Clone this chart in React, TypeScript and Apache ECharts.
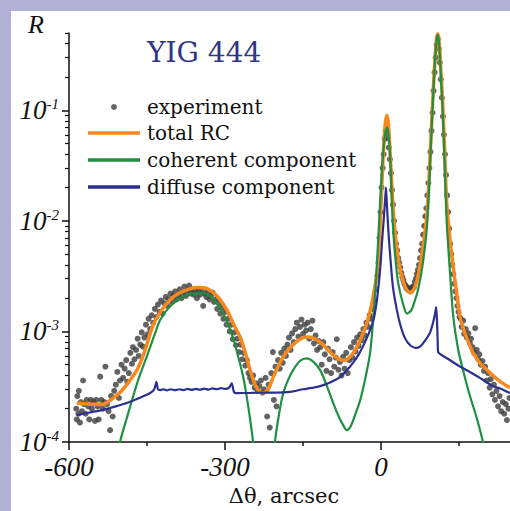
import React, { useEffect, useRef } from "react";
import * as echarts from "echarts";

// ---- axis ticks ----
const xMajorTicks = [-600, -300, 0];
const xMinorTicks = [-450, -150, 150];
const yMajorTicks = [1e-4, 1e-3, 1e-2, 1e-1];
const yMinorTicks = [
  2e-4, 3e-4, 4e-4, 5e-4, 6e-4, 7e-4, 8e-4, 9e-4,
  2e-3, 3e-3, 4e-3, 5e-3, 6e-3, 7e-3, 8e-3, 9e-3,
  2e-2, 3e-2, 4e-2, 5e-2, 6e-2, 7e-2, 8e-2, 9e-2,
  0.2, 0.3, 0.4, 0.5,
];

// ---- experiment points [Δθ arcsec, R] ----
const experiment: number[][] = [
  [-586, 2.0e-4], [-585, 1.6e-4], [-584, 2.6e-4], [-582, 1.8e-4], [-581, 2.9e-4], [-579, 1.5e-4], [-577, 2.3e-4], [-575, 1.9e-4],
  [-573, 3.6e-4], [-571, 2.2e-4], [-568, 1.8e-4], [-566, 2.4e-4], [-563, 2.1e-4], [-561, 1.6e-4], [-558, 2.4e-4], [-556, 2.0e-4],
  [-553, 2.3e-4], [-550, 1.55e-4], [-548, 2.4e-4], [-545, 2.1e-4], [-543, 1.6e-4], [-540, 3.9e-4], [-538, 2.4e-4], [-535, 2.0e-4],
  [-532, 2.3e-4], [-530, 4.8e-4], [-527, 2.2e-4], [-524, 1.9e-4], [-521, 1.28e-4], [-519, 2.6e-4], [-516, 1.7e-4], [-513, 2.9e-4],
  [-510, 3.3e-4], [-507, 4.3e-4], [-504, 2.5e-4], [-502, 3.6e-4],
  [-499, 5.0e-4], [-496, 3.8e-4], [-493, 4.6e-4], [-490, 5.5e-4], [-488, 3.5e-4], [-485, 4.2e-4], [-482, 6.4e-4], [-479, 5.1e-4],
  [-477, 7.2e-4], [-474, 5.6e-4], [-471, 6.8e-4], [-468, 8.6e-4], [-466, 6.0e-4], [-463, 7.6e-4], [-460, 9.8e-4], [-458, 7.3e-4],
  [-455, 8.8e-4], [-452, 1.15e-3], [-449, 9.4e-4], [-447, 1.3e-3], [-444, 1.05e-3], [-441, 1.4e-3],
  [-438, 1.2e-3], [-435, 1.6e-3], [-432, 1.35e-3], [-429, 1.75e-3], [-426, 1.5e-3], [-423, 1.9e-3], [-420, 1.45e-3], [-417, 1.8e-3],
  [-414, 2.05e-3], [-411, 1.7e-3], [-408, 1.95e-3], [-405, 2.2e-3], [-402, 1.85e-3], [-399, 2.1e-3], [-396, 2.3e-3], [-393, 1.95e-3],
  [-390, 2.15e-3], [-387, 2.4e-3], [-384, 2.0e-3], [-381, 2.25e-3], [-378, 2.55e-3], [-375, 2.1e-3], [-372, 2.35e-3], [-369, 2.6e-3],
  [-366, 2.2e-3], [-363, 2.4e-3], [-360, 2.15e-3], [-357, 2.35e-3], [-354, 2.0e-3], [-351, 2.3e-3], [-348, 2.15e-3], [-345, 2.4e-3],
  [-342, 1.7e-3], [-339, 2.2e-3], [-336, 2.05e-3], [-333, 2.3e-3], [-330, 1.95e-3], [-327, 2.1e-3], [-324, 2.25e-3], [-321, 1.85e-3],
  [-318, 1.95e-3], [-315, 1.6e-3], [-312, 1.8e-3], [-309, 1.45e-3], [-306, 1.65e-3], [-303, 1.3e-3], [-300, 1.5e-3], [-297, 1.15e-3],
  [-294, 1.3e-3], [-291, 1.0e-3], [-288, 1.15e-3], [-285, 8.5e-4], [-282, 9.8e-4], [-279, 7.5e-4], [-276, 8.6e-4], [-273, 6.5e-4],
  [-270, 7.6e-4], [-267, 5.6e-4], [-264, 6.4e-4], [-261, 4.9e-4], [-258, 5.5e-4], [-255, 4.2e-4], [-252, 3.8e-4],
  [-249, 3.5e-4], [-246, 4.0e-4], [-243, 3.1e-4], [-240, 3.4e-4], [-237, 2.9e-4], [-234, 3.2e-4], [-231, 3.6e-4], [-228, 2.8e-4],
  [-225, 3.0e-4], [-222, 3.8e-4], [-219, 1.7e-4], [-216, 3.3e-4], [-214, 1.35e-4], [-211, 4.2e-4], [-208, 6.5e-4], [-206, 2.4e-4],
  [-203, 4.8e-4], [-201, 2.1e-4],
  [-198, 5.5e-4], [-195, 4.6e-4], [-192, 6.4e-4], [-189, 5.2e-4], [-186, 7.0e-4], [-183, 6.0e-4], [-180, 7.6e-4], [-177, 8.8e-4],
  [-174, 6.8e-4], [-171, 9.6e-4], [-168, 8.0e-4], [-165, 1.05e-3], [-162, 1.2e-3], [-159, 9.0e-4], [-156, 1.1e-3], [-153, 1.28e-3],
  [-150, 9.5e-4], [-147, 1.15e-3], [-144, 1.02e-3], [-141, 1.2e-3], [-138, 8.6e-4], [-135, 1.05e-3], [-132, 1.25e-3],
  [-129, 7.8e-4], [-126, 9.2e-4], [-123, 6.8e-4], [-120, 8.2e-4], [-117, 7.2e-4], [-114, 5.0e-4], [-111, 8.0e-4], [-108, 6.2e-4],
  [-105, 4.4e-4], [-102, 7.0e-4], [-99, 5.6e-4], [-96, 4.2e-4], [-93, 6.5e-4], [-90, 4.8e-4], [-87, 5.8e-4], [-85, 8.5e-4],
  [-82, 4.5e-4], [-79, 5.3e-4], [-76, 4.0e-4], [-73, 5.9e-4], [-70, 4.6e-4], [-67, 6.4e-4], [-64, 4.2e-4], [-61, 5.5e-4],
  [-58, 7.2e-4], [-55, 5.8e-4], [-52, 8.0e-4], [-49, 6.6e-4], [-46, 8.8e-4], [-43, 7.4e-4], [-40, 9.4e-4], [-37, 8.3e-4],
  [-34, 1.05e-3], [-31, 9.2e-4], [-28, 1.2e-3], [-25, 1.1e-3], [-22, 1.4e-3], [-19, 1.3e-3], [-16, 1.6e-3], [-13, 1.9e-3],
  [-10, 2.4e-3], [-7, 3.2e-3],
  [-5, 4.2e-3], [-3, 7.0e-3], [-1, 1.2e-2], [1, 2.0e-2], [3, 3.0e-2], [5, 4.0e-2], [7, 5.5e-2], [9, 6.5e-2],
  [11, 6.2e-2], [13, 5.6e-2], [15, 4.6e-2], [17, 3.6e-2], [19, 2.7e-2], [21, 1.9e-2], [23, 1.4e-2], [25, 1.0e-2],
  [27, 7.8e-3], [29, 6.2e-3],
  [31, 5.4e-3], [33, 4.6e-3], [35, 4.2e-3], [37, 3.8e-3], [39, 3.4e-3], [41, 3.1e-3], [43, 2.9e-3], [45, 2.7e-3],
  [47, 2.6e-3], [49, 2.45e-3], [51, 2.5e-3], [53, 2.35e-3], [55, 2.4e-3], [57, 2.3e-3], [59, 2.45e-3], [61, 2.55e-3],
  [63, 2.5e-3], [65, 2.8e-3], [67, 3.0e-3], [69, 3.3e-3], [71, 3.6e-3], [73, 4.0e-3], [75, 4.6e-3], [77, 5.4e-3],
  [79, 6.2e-3], [81, 7.5e-3], [83, 9.0e-3], [85, 1.1e-2],
  [87, 1.3e-2], [89, 1.7e-2], [91, 2.2e-2], [93, 3.0e-2], [95, 4.2e-2], [97, 6.5e-2], [99, 9.5e-2], [101, 1.5e-1],
  [103, 2.2e-1], [105, 3.0e-1], [107, 3.9e-1], [109, 4.4e-1], [111, 3.6e-1], [113, 2.7e-1], [115, 1.9e-1], [117, 1.3e-1],
  [119, 8.8e-2], [121, 6.0e-2], [123, 4.0e-2], [125, 2.6e-2], [127, 1.7e-2], [129, 1.2e-2], [131, 8.5e-3], [133, 6.2e-3],
  [135, 5.0e-3], [137, 4.0e-3], [139, 3.3e-3], [141, 2.7e-3], [143, 2.3e-3], [145, 2.0e-3], [147, 1.7e-3], [149, 1.5e-3],
  [151, 1.35e-3],
  [153, 1.3e-3], [155, 1.1e-3], [158, 1.25e-3], [160, 9.5e-4], [163, 1.05e-3], [165, 8.8e-4], [168, 9.6e-4], [171, 7.8e-4],
  [173, 8.6e-4], [176, 7.2e-4], [179, 6.4e-4], [181, 1.07e-3], [184, 6.8e-4], [187, 5.6e-4], [189, 6.2e-4], [192, 5.0e-4],
  [195, 5.4e-4], [198, 4.4e-4], [200, 4.8e-4], [203, 3.6e-4], [206, 4.2e-4], [209, 3.1e-4], [211, 3.7e-4], [214, 2.7e-4],
  [217, 3.3e-4], [219, 2.4e-4], [222, 2.9e-4], [225, 2.1e-4], [228, 2.6e-4], [231, 1.9e-4], [234, 2.3e-4], [237, 1.8e-4],
  [240, 2.2e-4], [242, 1.58e-4], [245, 2.0e-4], [247, 2.5e-4],
];

// ---- total RC ----
const totalRC: number[][] = [
  [-585, 2.25e-4], [-560, 2.2e-4], [-535, 2.2e-4], [-520, 2.4e-4], [-502, 2.8e-4], [-485, 3.5e-4], [-469, 4.5e-4], [-455, 6.5e-4],
  [-438, 1.15e-3], [-422, 1.55e-3], [-406, 1.92e-3], [-390, 2.2e-3], [-373, 2.38e-3], [-355, 2.5e-3], [-340, 2.48e-3], [-323, 2.25e-3],
  [-310, 1.95e-3], [-296, 1.55e-3], [-283, 1.15e-3], [-271, 8.9e-4], [-260, 6.2e-4], [-252, 4.5e-4], [-242, 3.3e-4], [-233, 2.85e-4],
  [-225, 2.8e-4], [-217, 3.0e-4], [-207, 3.9e-4], [-197, 4.9e-4], [-188, 5.9e-4], [-178, 6.8e-4], [-169, 7.6e-4], [-156, 8.5e-4],
  [-143, 8.9e-4], [-130, 8.7e-4], [-117, 8.0e-4], [-104, 7.0e-4], [-92, 6.1e-4], [-80, 5.6e-4], [-70, 5.5e-4], [-58, 6.0e-4],
  [-46, 7.3e-4], [-36, 9.3e-4], [-27, 1.2e-3], [-20, 1.6e-3], [-14, 2.2e-3], [-8, 3.3e-3], [-4, 5.5e-3], [-1, 1.1e-2],
  [2, 2.4e-2], [5, 4.6e-2], [8, 7.4e-2], [11, 9.0e-2], [14, 7.6e-2], [17, 4.5e-2], [20, 2.4e-2], [23, 1.35e-2],
  [26, 8.8e-3], [31, 5.4e-3], [37, 3.6e-3], [43, 2.8e-3], [49, 2.4e-3], [56, 2.25e-3], [63, 2.4e-3], [70, 3.0e-3],
  [76, 4.2e-3], [82, 6.5e-3], [88, 1.1e-2], [92, 2.2e-2], [95, 4.5e-2], [98, 9e-2], [101, 1.7e-1], [104, 3.0e-1],
  [107, 4.5e-1], [109, 4.9e-1], [111, 4.5e-1], [113, 3.4e-1], [115, 2.3e-1], [118, 1.3e-1], [120, 8e-2], [123, 3.5e-2],
  [125, 1.9e-2], [127, 1.3e-2], [133, 6.5e-3], [139, 3.8e-3], [145, 2.3e-3], [152, 1.35e-3], [160, 1.0e-3], [168, 8.0e-4],
  [177, 6.4e-4], [190, 5.2e-4], [203, 4.5e-4], [215, 4.0e-4], [230, 3.5e-4], [248, 3.1e-4],
];

// ---- coherent component ----
const coherent: number[][] = [
  [-512, 6e-5], [-502, 1e-4], [-485, 1.9e-4], [-469, 3.4e-4], [-455, 5.2e-4], [-444, 7.2e-4], [-435, 9.5e-4], [-425, 1.26e-3],
  [-410, 1.6e-3], [-392, 1.92e-3], [-375, 2.12e-3], [-362, 2.2e-3], [-348, 2.22e-3], [-335, 2.18e-3], [-322, 1.95e-3], [-310, 1.65e-3],
  [-297, 1.25e-3], [-285, 8.9e-4], [-275, 6.0e-4], [-265, 3.87e-4], [-256, 2.2e-4], [-246, 1.0e-4], [-238, 4e-5], [-212, 4e-5],
  [-204, 1.0e-4], [-196, 1.8e-4], [-188, 2.77e-4], [-178, 3.7e-4], [-169, 4.47e-4], [-156, 5.4e-4], [-143, 5.7e-4], [-130, 5.3e-4],
  [-117, 4.47e-4], [-104, 3.2e-4], [-92, 2.25e-4], [-80, 1.65e-4], [-72, 1.4e-4], [-66, 1.28e-4], [-58, 1.4e-4], [-50, 1.75e-4],
  [-40, 2.4e-4], [-30, 3.8e-4], [-21, 6.4e-4], [-15, 1.3e-3], [-10, 2.8e-3], [-6, 6.0e-3], [-2, 1.4e-2], [2, 3.0e-2],
  [6, 5.2e-2], [9, 6.6e-2], [12, 7.0e-2], [15, 5.6e-2], [18, 3.4e-2], [21, 1.4e-2], [24, 7.5e-3], [28, 4.4e-3],
  [33, 2.75e-3], [42, 1.8e-3], [50, 1.45e-3], [58, 1.55e-3], [65, 1.9e-3], [71, 2.36e-3], [80, 4.0e-3], [88, 8.5e-3],
  [92, 1.8e-2], [95, 3.8e-2], [98, 8e-2], [101, 1.6e-1], [104, 2.9e-1], [107, 4.4e-1], [109, 4.8e-1], [111, 4.3e-1],
  [113, 3.2e-1], [115, 2.1e-1], [118, 1.1e-1], [120, 6.5e-2], [123, 2.6e-2], [125, 1.4e-2], [127, 8.5e-3], [133, 3.2e-3],
  [139, 1.35e-3], [148, 7.0e-4], [158, 4.4e-4], [170, 2.7e-4], [184, 1.65e-4], [196, 1.0e-4], [205, 6e-5],
];

// ---- diffuse component ----
const diffuse: number[][] = [
  [-585, 1.75e-4], [-560, 1.85e-4], [-535, 1.95e-4], [-510, 2.1e-4], [-489, 2.25e-4], [-465, 2.5e-4], [-444, 2.77e-4], [-436, 3.0e-4],
  [-432, 3.5e-4], [-429, 3.0e-4], [-424, 2.95e-4], [-418, 3.0e-4], [-412, 2.93e-4], [-404, 3.0e-4], [-396, 2.94e-4], [-388, 3.0e-4],
  [-380, 2.95e-4], [-372, 3.02e-4], [-364, 2.96e-4], [-356, 3.02e-4], [-348, 2.97e-4], [-340, 3.04e-4], [-332, 2.98e-4], [-324, 3.05e-4],
  [-316, 3.0e-4], [-308, 3.07e-4], [-300, 3.02e-4], [-292, 3.1e-4], [-287, 3.4e-4], [-283, 2.85e-4], [-279, 2.77e-4], [-250, 2.78e-4],
  [-225, 2.8e-4], [-200, 2.8e-4], [-175, 2.84e-4], [-150, 3.0e-4], [-130, 3.1e-4], [-111, 3.27e-4], [-95, 3.5e-4], [-79, 3.87e-4],
  [-65, 4.5e-4], [-54, 5.2e-4], [-42, 6.3e-4], [-32, 7.8e-4], [-22, 1.0e-3], [-14, 1.3e-3], [-8, 1.9e-3], [-4, 2.8e-3],
  [-1, 4.0e-3], [2, 6.5e-3], [5, 1.0e-2], [8, 1.6e-2], [9.5, 2.0e-2], [11, 1.5e-2], [13, 1.0e-2], [15, 7.0e-3],
  [19, 4.0e-3], [23, 2.5e-3], [30, 1.6e-3], [37, 1.15e-3], [46, 8.7e-4], [56, 7.5e-4], [66, 7.1e-4], [75, 7.3e-4],
  [85, 8.3e-4], [94, 9.7e-4], [100, 1.2e-3], [104, 1.45e-3], [106, 1.66e-3], [107.5, 1.3e-3], [109, 8e-4], [110, 6.5e-4],
  [130, 5.6e-4], [152, 4.8e-4], [165, 4.45e-4], [190, 3.8e-4], [215, 3.2e-4], [229, 3.05e-4], [248, 2.77e-4],
];

const AX = "#111";
const SERIF = "DejaVu Serif";
const ITALIC = "Liberation Serif";

export default function App() {
  const ref = useRef<HTMLDivElement>(null);
  useEffect(() => {
    document.body.style.margin = "0";
    if (!ref.current) return;
    const chart = echarts.init(ref.current, null, { renderer: "svg" });
    const supLabel = (v: number) => `{b|10}{s|${Math.round(Math.log10(v))}}`;
    chart.setOption({
      animation: false,
      backgroundColor: "#ffffff",
      textStyle: { fontFamily: SERIF },
      title: [
        {
          text: "YIG 444",
          left: 136,
          top: 27,
          padding: 0,
          textStyle: { fontFamily: SERIF, fontWeight: "normal", fontSize: 28, color: "#2e3587" },
        },
        {
          text: "R",
          left: 17,
          top: 0,
          padding: 0,
          textStyle: { fontFamily: ITALIC, fontStyle: "italic", fontWeight: "normal", fontSize: 26, color: "#111" },
        },
      ],
      legend: [
        {
          orient: "vertical",
          left: 100,
          top: 86,
          padding: 0,
          itemWidth: 6,
          itemHeight: 6,
          itemGap: 7,
          data: [{ name: "experiment", icon: "circle" }],
          formatter: "{t|{name}}",
          textStyle: {
            fontFamily: SERIF,
            fontSize: 20,
            color: "#111",
            rich: { t: { fontFamily: SERIF, fontSize: 20, color: "#111", padding: [0, 0, 0, 25] } },
          },
        },
        {
          orient: "vertical",
          left: 77,
          top: 112,
          padding: 0,
          itemWidth: 52,
          itemHeight: 3.5,
          itemGap: 7,
          icon: "rect",
          data: ["total RC", "coherent component", "diffuse component"],
          formatter: "{t|{name}}",
          textStyle: {
            fontFamily: SERIF,
            fontSize: 20,
            color: "#111",
            rich: { t: { fontFamily: SERIF, fontSize: 20, color: "#111", padding: [0, 0, 0, 2] } },
          },
        },
      ],
      grid: { left: 58, right: 0, top: 22, bottom: 69, outerBoundsMode: "none", containLabel: false },
      xAxis: [
        {
          type: "value",
          min: -600,
          max: 248,
          name: "Δθ, arcsec",
          nameLocation: "middle",
          nameGap: 43,
          nameTextStyle: { fontFamily: SERIF, fontSize: 21, color: "#111", padding: [0, 11, 0, 0] },
          axisLine: { show: true, onZero: false, lineStyle: { color: AX, width: 1.5 } },
          axisTick: { show: true, customValues: xMajorTicks, length: 8, lineStyle: { color: AX, width: 1.5 } },
          axisLabel: {
            customValues: xMajorTicks,
            margin: 11,
            fontFamily: ITALIC,
            fontStyle: "italic",
            fontSize: 27,
            color: "#111",
          },
          splitLine: { show: false },
        },
        {
          type: "value",
          min: -600,
          max: 248,
          position: "bottom",
          axisLine: { show: false, onZero: false },
          axisTick: { show: true, customValues: xMinorTicks, length: 4, lineStyle: { color: AX, width: 1.5 } },
          axisLabel: { show: false },
          splitLine: { show: false },
        },
      ],
      yAxis: [
        {
          type: "log",
          logBase: 10,
          min: 1e-4,
          max: 0.5,
          axisLine: { show: true, onZero: false, lineStyle: { color: AX, width: 1.5 } },
          axisTick: { show: true, customValues: yMajorTicks, length: 7, lineStyle: { color: AX, width: 1.5 } },
          axisLabel: {
            customValues: yMajorTicks,
            margin: 10,
            formatter: supLabel,
            rich: {
              b: { fontFamily: ITALIC, fontStyle: "italic", fontSize: 27, color: "#111" },
              s: { fontFamily: ITALIC, fontStyle: "italic", fontSize: 15, color: "#111", verticalAlign: "top" },
            },
          },
          splitLine: { show: false },
        },
        {
          type: "log",
          logBase: 10,
          min: 1e-4,
          max: 0.5,
          position: "left",
          axisLine: { show: false, onZero: false },
          axisTick: { show: true, customValues: yMinorTicks, length: 4, lineStyle: { color: AX, width: 1.2 } },
          axisLabel: { show: false },
          splitLine: { show: false },
        },
      ],
      series: [
        {
          name: "experiment",
          type: "scatter",
          data: experiment,
          symbol: "circle",
          symbolSize: 6,
          itemStyle: { color: "#3c3c3c" },
          z: 2,
        },
        {
          name: "total RC",
          type: "line",
          data: totalRC,
          symbol: "none",
          smooth: 0.3,
          lineStyle: { color: "#f5891e", width: 3.5 },
          itemStyle: { color: "#f5891e" },
          z: 3,
        },
        {
          name: "coherent component",
          type: "line",
          data: coherent,
          symbol: "none",
          smooth: 0.3,
          lineStyle: { color: "#1f8f42", width: 2.2 },
          itemStyle: { color: "#1f8f42" },
          z: 4,
        },
        {
          name: "diffuse component",
          type: "line",
          data: diffuse,
          symbol: "none",
          smooth: 0.2,
          lineStyle: { color: "#2b2f90", width: 2.2 },
          itemStyle: { color: "#2b2f90" },
          z: 5,
        },
      ],
    });
    return () => chart.dispose();
  }, []);

  return (
    <div style={{ position: "relative", width: 510, height: 511, background: "#b3b1d6", overflow: "hidden" }}>
      <div
        ref={ref}
        style={{ position: "absolute", left: 11, top: 11, width: 499, height: 500, background: "#ffffff" }}
      />
    </div>
  );
}
